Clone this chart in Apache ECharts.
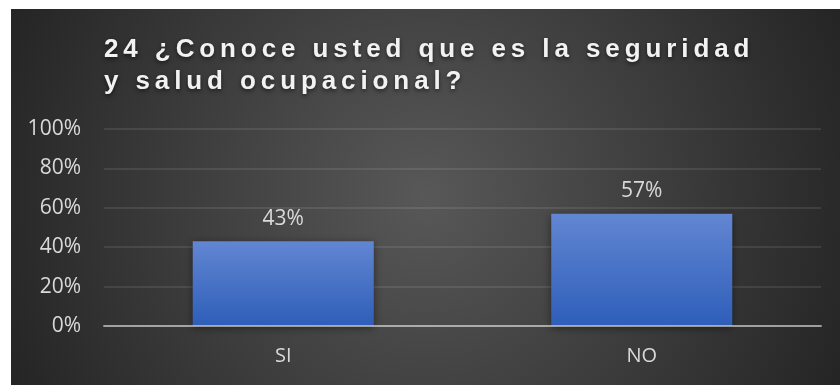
<!DOCTYPE html>
<html>
<head>
<meta charset="utf-8">
<script src="https://cdn.jsdelivr.net/npm/echarts@6/dist/echarts.min.js"></script>
<style>
  html, body { margin: 0; padding: 0; background: #fff; }
  #main { width: 840px; height: 385px; }
</style>
</head>
<body>
<div id="main"></div>
<script>
// chart data
const titleText = '24 ¿Conoce usted que es la seguridad\ny salud ocupacional?';
const categories = ['SI', 'NO'];
const values = [43, 57];          // percent
const yTicks = [0, 20, 40, 60, 80, 100];

const chart = echarts.init(document.getElementById('main'));

// title sits on its own layer so it can get the wide letter spacing of the original
const titleLayer = chart.getZr().painter.getLayer(1);
if (titleLayer && titleLayer.ctx) titleLayer.ctx.letterSpacing = '4.9px';

const labelColor = '#d9d9d9';

const option = {
  animation: false,
  backgroundColor: '#ffffff',
  graphic: [{
    type: 'rect',
    z: -10,
    silent: true,
    shape: { x: 11, y: 9, width: 829, height: 376 },
    style: {
      fill: {
        type: 'radial', x: 0.5, y: 0.5, r: 1.2,
        colorStops: [
          { offset: 0, color: '#585858' },
          { offset: 1, color: '#252525' }
        ]
      }
    }
  }],
  title: {
    text: titleText,
    left: 99,
    top: 29,
    zlevel: 1,
    textStyle: {
      color: '#f2f2f2',
      fontFamily: 'Liberation Sans, Arial, sans-serif',
      fontWeight: 'bold',
      fontSize: 26,
      lineHeight: 32,
      textShadowColor: 'rgba(0,0,0,0.55)',
      textShadowBlur: 4,
      textShadowOffsetY: 2
    }
  },
  grid: { left: 104, right: 19, top: 129, bottom: 59 },
  xAxis: {
    type: 'category',
    data: categories,
    z: 3,
    axisLine: { lineStyle: { color: 'rgba(255,255,255,0.5)', width: 2 } },
    axisTick: { show: false },
    axisLabel: {
      color: labelColor,
      fontFamily: 'Open Sans, sans-serif',
      fontSize: 20,
      margin: 20
    }
  },
  yAxis: {
    type: 'value',
    min: yTicks[0],
    max: yTicks[yTicks.length - 1],
    interval: 20,
    axisLine: { show: false },
    axisTick: { show: false },
    splitLine: { lineStyle: { color: 'rgba(255,255,255,0.12)', width: 1.5 } },
    axisLabel: {
      color: labelColor,
      fontFamily: 'Open Sans, sans-serif',
      fontSize: 21,
      margin: 23,
      formatter: '{value}%'
    }
  },
  series: [{
    type: 'bar',
    data: values,
    barWidth: '50.5%',
    itemStyle: {
      color: {
        type: 'linear', x: 0, y: 0, x2: 0, y2: 1,
        colorStops: [
          { offset: 0, color: '#6286d2' },
          { offset: 1, color: '#2e5eb9' }
        ]
      },
      shadowColor: 'rgba(0,0,0,0.45)',
      shadowBlur: 8,
      shadowOffsetY: 2
    },
    label: {
      show: true,
      position: 'top',
      distance: 12,
      color: labelColor,
      fontFamily: 'Open Sans, sans-serif',
      fontSize: 21,
      formatter: '{c}%'
    }
  }]
};

chart.setOption(option);
</script>
</body>
</html>
